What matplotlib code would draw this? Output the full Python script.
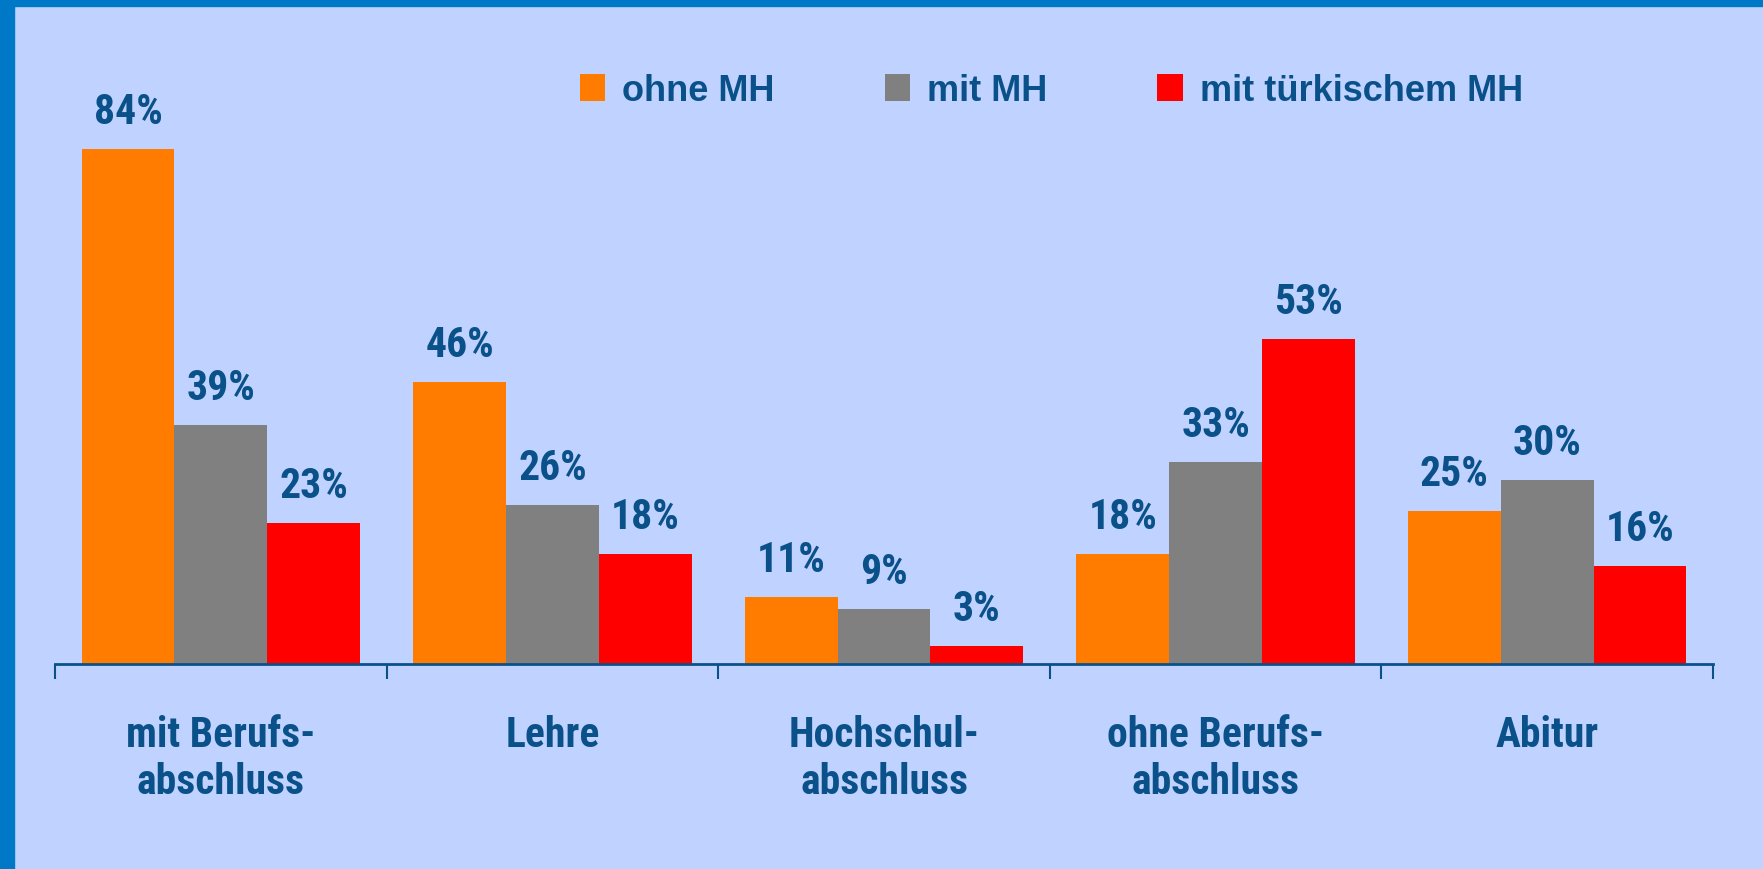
import numpy as np
import matplotlib
matplotlib.use("Agg")
import matplotlib.pyplot as plt
from matplotlib.patches import Rectangle

# data
categories = ["mit Berufs-\nabschluss", "Lehre", "Hochschul-\nabschluss", "ohne Berufs-\nabschluss", "Abitur"]
series_names = ["ohne MH", "mit MH", "mit türkischem MH"]
ohne_mh = [84, 46, 11, 18, 25]
mit_mh = [39, 26, 9, 33, 30]
mit_tuerk_mh = [23, 18, 3, 53, 16]
colors = ["#FF7C00", "#808080", "#FF0000"]

bg = "#C0D2FF"
txt = "#0A518A"
narrow = ["Roboto Condensed", "Liberation Sans", "DejaVu Sans"]
regular = ["Liberation Sans", "DejaVu Sans"]

W, H = 1763, 870
fig = plt.figure(figsize=(W / 100, H / 100), dpi=100, facecolor=bg)

# blue frame (left and top)
fig.patches.append(Rectangle((0, 0), 14 / W, 1, transform=fig.transFigure, color="#0078C8", zorder=5))
fig.patches.append(Rectangle((0, 1 - 7 / H), 1, 7 / H, transform=fig.transFigure, color="#0078C8", zorder=5))

ax = fig.add_axes([55 / W, 205 / H, 1658 / W, 613 / H])
ax.set_facecolor("none")

x = np.arange(len(categories))
width = 0.28
all_series = [ohne_mh, mit_mh, mit_tuerk_mh]
for i, (vals, name, c) in enumerate(zip(all_series, series_names, colors)):
    bars = ax.bar(x + (i - 1) * width, vals, width, color=c, label=name)
    ax.bar_label(bars, labels=[f"{v}%" for v in vals], padding=12,
                 fontsize=30, fontweight="bold", color=txt, family=narrow)

ax.set_xlim(-0.5, len(categories) - 0.5)
ax.set_ylim(0, 100)

for s in ["top", "right", "left"]:
    ax.spines[s].set_visible(False)
ax.spines["bottom"].set_color(txt)
ax.spines["bottom"].set_linewidth(2)
ax.set_yticks([])

ax.set_xticks(x)
ax.set_xticklabels(categories, fontsize=30, fontweight="bold", color=txt, family=narrow)
ax.tick_params(axis="x", which="major", length=0, pad=36)
ax.set_xticks(np.arange(len(categories) + 1) - 0.5, minor=True)
ax.tick_params(axis="x", which="minor", length=11, width=1.5, color=txt)

leg = ax.legend(loc="upper left", bbox_to_anchor=(580 / W, 1 - 74 / H),
                bbox_transform=fig.transFigure, ncol=3, frameon=False,
                handlelength=0.7, handleheight=0.75, handletextpad=0.47,
                columnspacing=3.05, borderpad=0, borderaxespad=0,
                prop={"family": regular, "weight": "bold", "size": 26})
for t in leg.get_texts():
    t.set_color(txt)

fig.savefig("out.png", dpi=100, facecolor=bg)
